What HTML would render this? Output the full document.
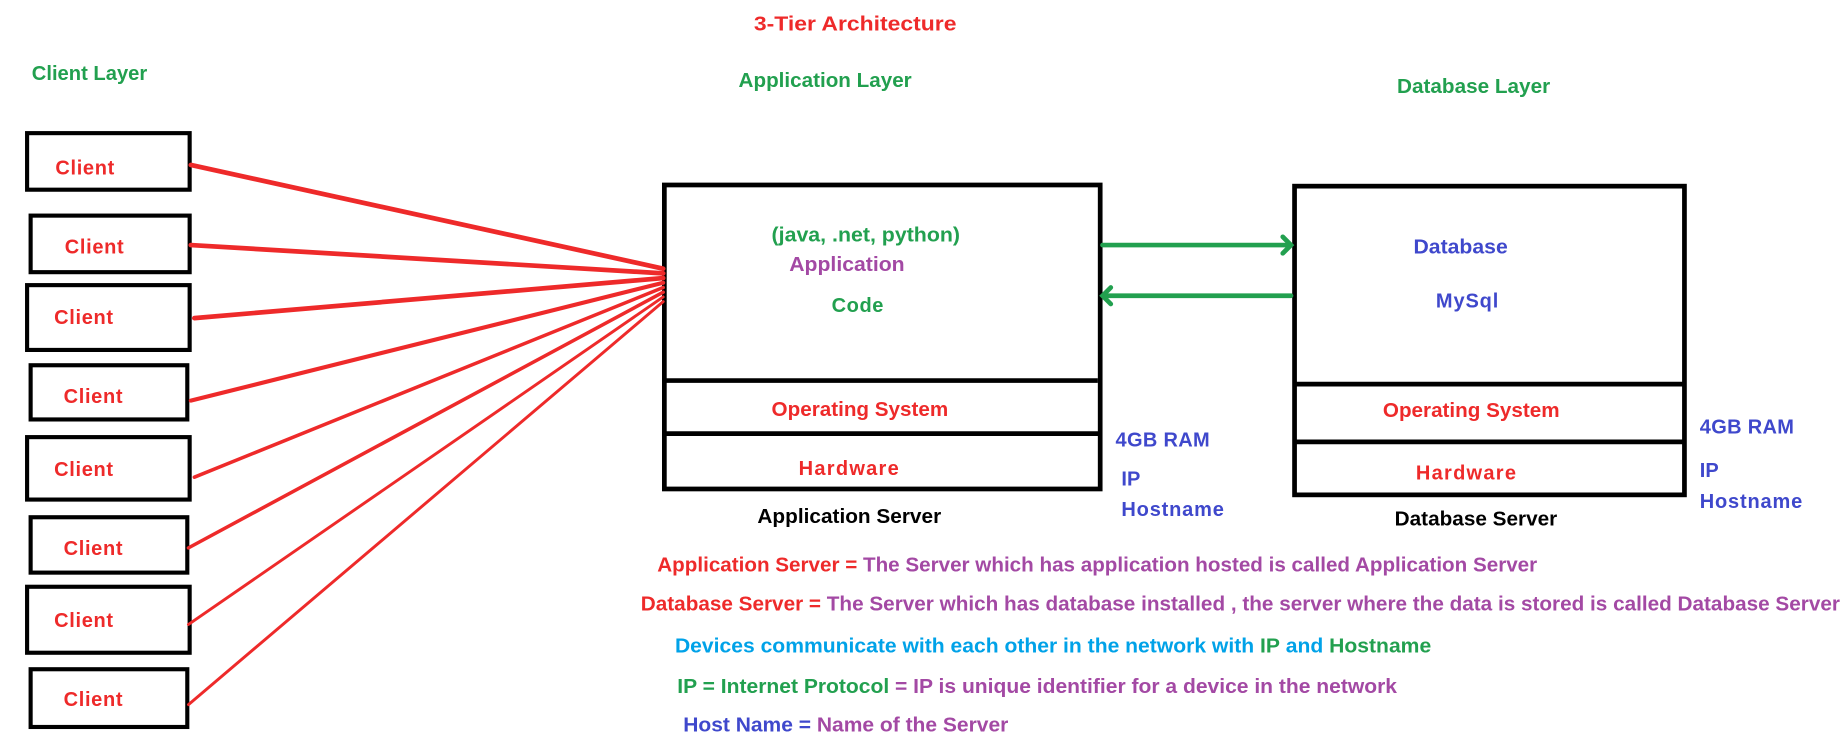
<!DOCTYPE html>
<html><head><meta charset="utf-8"><style>
html,body{margin:0;padding:0;background:#fff;width:1847px;height:747px;overflow:hidden}
svg{display:block}
text{font-family:"Liberation Sans",sans-serif;font-weight:bold;font-size:17px}
</style></head><body>
<svg width="1847" height="747" viewBox="0 0 1568 634" preserveAspectRatio="none">
<g fill="none" stroke="#000" stroke-width="3.5">
<rect x="23" y="113" width="138" height="48"/>
<rect x="26" y="183" width="135" height="48"/>
<rect x="23" y="242" width="138" height="55"/>
<rect x="26" y="310" width="133" height="46"/>
<rect x="23" y="371" width="138" height="53"/>
<rect x="26" y="439" width="133" height="47"/>
<rect x="23" y="498" width="138" height="56"/>
<rect x="26" y="568" width="133" height="49"/>
<rect x="564" y="157" width="370" height="258" stroke-width="4"/>
<line x1="564" y1="323" x2="932" y2="323" stroke-width="4"/>
<line x1="564" y1="368" x2="934" y2="368" stroke-width="4"/>
<rect x="1099" y="158" width="331" height="262" stroke-width="4"/>
<line x1="1099" y1="326" x2="1430" y2="326" stroke-width="4"/>
<line x1="1099" y1="375" x2="1430" y2="375" stroke-width="4"/>
</g>
<g stroke="#ee2a2a" stroke-linecap="round">
<line x1="162" y1="140" x2="563" y2="228" stroke-width="4"/>
<line x1="162" y1="208" x2="563" y2="232" stroke-width="4"/>
<line x1="165" y1="270" x2="563" y2="236" stroke-width="4"/>
<line x1="162" y1="340" x2="563" y2="240" stroke-width="3.5"/>
<line x1="165" y1="405" x2="563" y2="244" stroke-width="3"/>
<line x1="160" y1="465" x2="563" y2="248" stroke-width="3"/>
<line x1="160" y1="530" x2="563" y2="252" stroke-width="2.5"/>
<line x1="160" y1="598" x2="563" y2="256" stroke-width="2.5"/>
</g>
<g stroke="#22a04f" stroke-width="4" fill="none" stroke-linecap="round">
<line x1="936" y1="208" x2="1094" y2="208"/>
<polyline points="1089,201 1096,208 1089,215"/>
<line x1="938" y1="251" x2="1096" y2="251"/>
<polyline points="943,244 936,251 943,258"/>
</g>
<g fill="#ee2a2a">
<text x="640" y="26" textLength="172" lengthAdjust="spacingAndGlyphs">3-Tier Architecture</text>
<text x="47" y="148" textLength="50">Client</text>
<text x="55" y="215" textLength="50">Client</text>
<text x="46" y="275" textLength="50">Client</text>
<text x="54" y="342" textLength="50">Client</text>
<text x="46" y="404" textLength="50">Client</text>
<text x="54" y="471" textLength="50">Client</text>
<text x="46" y="532" textLength="50">Client</text>
<text x="54" y="599" textLength="50">Client</text>
<text x="655" y="353" textLength="150" lengthAdjust="spacingAndGlyphs">Operating System</text>
<text x="678" y="403" textLength="85">Hardware</text>
<text x="1174" y="354" textLength="150" lengthAdjust="spacingAndGlyphs">Operating System</text>
<text x="1202" y="407" textLength="85">Hardware</text>
</g>
<g fill="#22a04f">
<text x="27" y="68" textLength="98" lengthAdjust="spacingAndGlyphs">Client Layer</text>
<text x="627" y="74" textLength="147" lengthAdjust="spacingAndGlyphs">Application Layer</text>
<text x="1186" y="79" textLength="130" lengthAdjust="spacingAndGlyphs">Database Layer</text>
<text x="655" y="205" textLength="160" lengthAdjust="spacingAndGlyphs">(java, .net, python)</text>
<text x="706" y="265" textLength="44">Code</text>
</g>
<text x="670" y="230" textLength="98" lengthAdjust="spacingAndGlyphs" fill="#a349a4">Application</text>
<g fill="#3f48cc">
<text x="1200" y="215" textLength="80" lengthAdjust="spacingAndGlyphs">Database</text>
<text x="1219" y="261" textLength="53">MySql</text>
<text x="947" y="379" textLength="80">4GB RAM</text>
<text x="952" y="412">IP</text>
<text x="952" y="438" textLength="87">Hostname</text>
<text x="1443" y="368" textLength="80">4GB RAM</text>
<text x="1443" y="405">IP</text>
<text x="1443" y="431" textLength="87">Hostname</text>
</g>
<g fill="#000">
<text x="643" y="444" textLength="156" lengthAdjust="spacingAndGlyphs">Application Server</text>
<text x="1184" y="446" textLength="138" lengthAdjust="spacingAndGlyphs">Database Server</text>
</g>
<text x="558" y="485" textLength="747" lengthAdjust="spacingAndGlyphs"><tspan fill="#ee2a2a">Application Server = </tspan><tspan fill="#a349a4">The Server which has application hosted is called Application Server</tspan></text>
<text x="544" y="518" textLength="1018" lengthAdjust="spacingAndGlyphs"><tspan fill="#ee2a2a">Database Server = </tspan><tspan fill="#a349a4">The Server which has database installed , the server where the data is stored is called Database Server</tspan></text>
<text x="573" y="554" textLength="642" lengthAdjust="spacingAndGlyphs"><tspan fill="#00a2e8">Devices communicate with each other in the network with </tspan><tspan fill="#22a04f">IP</tspan><tspan fill="#00a2e8"> and </tspan><tspan fill="#22a04f">Hostname</tspan></text>
<text x="575" y="588" textLength="611" lengthAdjust="spacingAndGlyphs"><tspan fill="#22a04f">IP = Internet Protocol </tspan><tspan fill="#a349a4">= IP is unique identifier for a device in the network</tspan></text>
<text x="580" y="621" textLength="276" lengthAdjust="spacingAndGlyphs"><tspan fill="#3f48cc">Host Name = </tspan><tspan fill="#a349a4">Name of the Server</tspan></text>
</svg>
</body></html>
